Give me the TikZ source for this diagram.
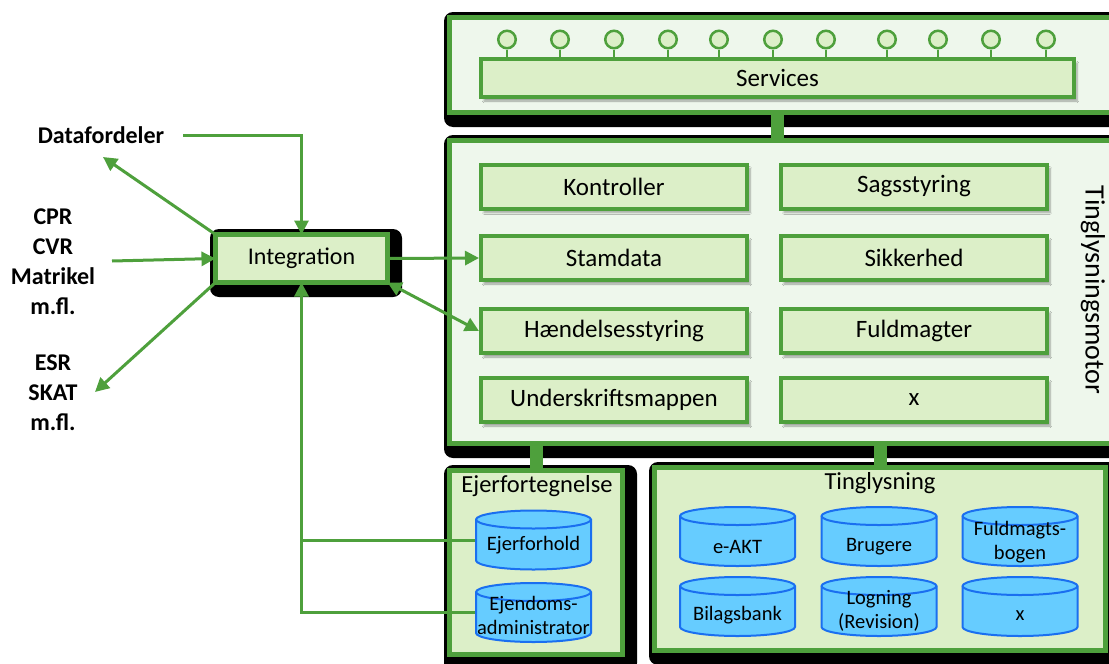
\documentclass[tikz,border=0pt]{standalone}
\usepackage{fontspec}
\setmainfont{Carlito}
\usetikzlibrary{arrows.meta,shadows.blur}
\definecolor{G}{HTML}{4EA03C}
\definecolor{LG}{HTML}{DCEFC8}
\definecolor{VLG}{HTML}{EEF7EC}
\definecolor{CB}{HTML}{1A6FF0}
\definecolor{CF}{HTML}{66CCFF}
\begin{document}
\begin{tikzpicture}[x=1pt,y=-1pt,
  frame/.style={draw=G, line width=5pt, fill=VLG, inner sep=0pt, outer sep=0pt},
  mbox/.style={draw=G, line width=4pt, fill=LG, minimum width=266pt, minimum height=44pt, inner sep=0pt,
    font=\fontsize{25}{29}\selectfont,
    blur shadow={shadow xshift=3pt, shadow yshift=-4pt, shadow blur steps=6, shadow opacity=35}},
  db/.style={rectangle, minimum width=117pt, minimum height=61pt, inner sep=0pt, outer sep=0pt,
    path picture={
      \draw[CB, line width=2pt, fill=CF]
        ([xshift=1pt,yshift=-10pt]path picture bounding box.north west)
        -- ([xshift=1pt,yshift=10pt]path picture bounding box.south west)
        arc[start angle=180,end angle=360,x radius=57.5pt,y radius=9pt]
        -- ([xshift=-1pt,yshift=-10pt]path picture bounding box.north east)
        arc[start angle=0,end angle=180,x radius=57.5pt,y radius=9pt] -- cycle;
      \draw[CB, line width=2pt]
        ([xshift=1pt,yshift=-10pt]path picture bounding box.north west)
        arc[start angle=180,end angle=360,x radius=57.5pt,y radius=9pt];
    }},
  dbl/.style={align=center, font=\fontsize{20.5}{24}\selectfont, inner sep=0pt},
  arr/.style={draw=G, line width=3pt, -{Triangle[length=14pt,width=14pt]}},
  plain/.style={draw=G, line width=3pt},
  stem/.style={draw=G, line width=2.5pt},
  link/.style={draw=G, line width=13pt},
  lab/.style={font=\bfseries\fontsize{24}{30}\selectfont, align=center},
  title/.style={font=\fontsize{24.5}{28}\selectfont},
  lolli/.style={circle, draw=G, line width=2.5pt, fill=LG, minimum size=17.5pt, inner sep=0pt},
  shadowbox/.style={fill=black, rounded corners=9pt}
]
\useasboundingbox (0,0) rectangle (1109,664);

% black backing shapes
\fill[shadowbox] (444,12) rectangle (1130,127);
\fill[shadowbox] (444,135) rectangle (1130,458);
\fill[shadowbox] (444,465) rectangle (637,672);
\fill[shadowbox] (649,462) rectangle (1125,665);
\fill[shadowbox] (210,229) rectangle (402,297);

% outer frames
\node[frame, minimum width=666pt, minimum height=95pt] (svc) at (782.5,65) {};
\node[frame, minimum width=666pt, minimum height=303pt] (motor) at (782.5,292) {};
\node[frame, fill=LG, minimum width=173pt, minimum height=184pt] (ejer) at (536,562.5) {};
\node[frame, fill=LG, minimum width=451pt, minimum height=183pt] (tingl) at (880,559) {};
\node[frame, fill=LG, minimum width=172pt, minimum height=48pt, font=\fontsize{24}{28}\selectfont] (integ) at (301.5,258.5) {Integration};

% services
\node[draw=G, line width=4pt, fill=LG, minimum width=593pt, minimum height=38pt, inner sep=0pt,
  font=\fontsize{25}{29}\selectfont,
  blur shadow={shadow xshift=3pt, shadow yshift=-4pt, shadow blur steps=6, shadow opacity=35}] (srv) at (777.5,78) {Services};
\foreach \x [count=\i] in {507,560,614,668,719,773,826,887,938,991,1046}{
  \node[lolli] (l\i) at (\x,39.5) {};
  \draw[stem] (l\i.south) -- (l\i.south |- srv.north);
}

% motor boxes
\node[mbox] (kon) at (614,186.5) {Kontroller};
\node[mbox] (sag) at (914,186.5) {Sagsstyring};
\node[mbox] (stam) at (614,258) {Stamdata};
\node[mbox] (sik) at (914,258) {Sikkerhed};
\node[mbox] (haend) at (614,331) {Hændelsesstyring};
\node[mbox] (fuld) at (914,331) {Fuldmagter};
\node[mbox] (under) at (614,400) {Underskriftsmappen};
\node[mbox] (xx) at (914,400) {x};
\node[font=\fontsize{28}{32}\selectfont, rotate=-90] (motlab) at (1093,290) {Tinglysningsmotor};

% lower boxes
\node[title] (ejert) at (537,486) {Ejerfortegnelse};
\node[db, label={[dbl, yshift=-5pt]center:Ejerforhold}] (ejfh) at (533.5,540) {};
\node[db, label={[dbl, yshift=-3pt]center:Ejendoms-\\administrator}] (ejadm) at (533.5,612.5) {};
\node[title] (tinglt) at (880,483) {Tinglysning};
\node[db, label={[dbl, yshift=-10pt]center:e-AKT}] (eakt) at (737.5,536.5) {};
\node[db, label={[dbl, yshift=-10pt]center:Brugere}] (brug) at (879,536.5) {};
\node[db, label={[dbl, yshift=-6pt]center:Fuldmagts-\\bogen}] (fbog) at (1020,536.5) {};
\node[db, label={[dbl, yshift=-9pt]center:Bilagsbank}] (bilag) at (737.5,606.5) {};
\node[db, label={[dbl, yshift=-4pt]center:Logning\\(Revision)}] (log) at (879,606.5) {};
\node[db, label={[dbl, yshift=-9pt]center:x}] (xdb) at (1020,606.5) {};

% thick links
\draw[link] (srv.south |- svc.south) -- (srv.south |- motor.north);
\draw[link] (ejer.north |- motor.south) -- (ejer.north);
\draw[link] (tingl.north |- motor.south) -- (tingl.north);

% left labels
\node[lab] (df) at (101,135) {Datafordeler};
\node[lab] (cpr) at (53,262) {CPR\\CVR\\Matrikel\\m.fl.};
\node[lab] (esr) at (53,393) {ESR\\SKAT\\m.fl.};
\coordinate (dfout) at (183,135);
\coordinate (dfin) at (103,157);
\coordinate (cprout) at (112,261);
\coordinate (esrin) at (95,392);

% arrows
\draw[arr] (dfout) -| (integ.north);
\draw[arr] (integ.north west) -- (dfin);
\draw[arr] (cprout) -- (integ.west);
\draw[arr] (integ.south west) -- (esrin);
\draw[arr] (integ.east) -- (stam.west);
\draw[arr, {Triangle[length=14pt,width=14pt]}-{Triangle[length=14pt,width=14pt]}] (integ.south east) -- (haend.west);
\draw[plain] (ejfh.west) -- (ejfh.west -| integ.south);
\draw[arr] (ejadm.west) -| (integ.south);
\end{tikzpicture}
\end{document}
